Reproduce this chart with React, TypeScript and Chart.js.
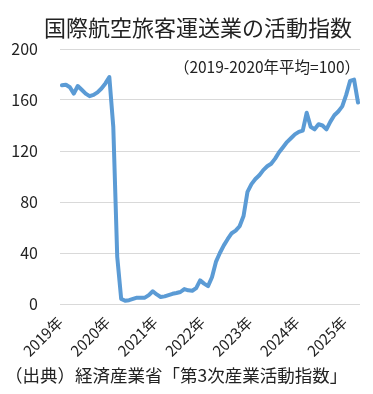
import React, { useEffect, useRef } from 'react';
import { Chart, registerables } from 'chart.js';

Chart.register(...registerables);

const FONT = '"Noto Sans CJK JP", "Noto Sans", sans-serif';

const title = '国際航空旅客運送業の活動指数';
const subtitle = '（2019-2020年平均=100）';
const source = '（出典）経済産業省「第3次産業活動指数」';

// Year labels (tick at January of each year)
const years = ['2019年', '2020年', '2021年', '2022年', '2023年', '2024年', '2025年'];

// Monthly index values, Jan 2019 – Apr 2025
const values2019 = [171.5, 172, 170, 165, 171, 168, 165, 163, 164, 166, 169, 173];
const values2020 = [178, 139, 37, 4, 2.5, 3, 4, 5, 5, 5, 7, 10];
const values2021 = [7.5, 5.5, 6, 7, 8, 8.6, 9.4, 11.7, 10.7, 10.4, 12.5, 18.5];
const values2022 = [16, 14, 21, 33, 40, 46, 51, 55.5, 57.5, 61, 69, 88];
const values2023 = [94, 98, 101, 105, 108, 110, 114, 119, 123, 127, 130, 133];
const values2024 = [135, 136, 150, 139, 137, 141, 140, 137, 143, 148, 151, 155];
const values2025 = [164, 175, 176, 158];

const values = [...values2019, ...values2020, ...values2021, ...values2022, ...values2023, ...values2024, ...values2025];

const yMin = 0;
const yMax = 200;
const yStep = 40;

export default function App() {
  const ref = useRef<HTMLCanvasElement>(null);

  useEffect(() => {
    document.body.style.margin = '0';
    const canvas = ref.current;
    if (!canvas) return;
    const chart = new Chart(canvas, {
      type: 'line',
      data: {
        datasets: [
          {
            data: values.map((v, i) => ({ x: i, y: v })),
            borderColor: '#5B9BD5',
            borderWidth: 4,
            pointRadius: 0,
            tension: 0,
            borderJoinStyle: 'round',
            borderCapStyle: 'round',
            fill: false,
          },
        ],
      },
      options: {
        responsive: false,
        animation: false,
        layout: { padding: { left: 0, right: 13, top: 49, bottom: 0 } },
        plugins: {
          legend: { display: false },
          tooltip: { enabled: false },
          title: { display: false },
        },
        scales: {
          x: {
            type: 'linear',
            min: -0.5,
            max: values.length - 0.5,
            grid: { display: false, drawTicks: false },
            border: { display: false },
            afterBuildTicks: (axis: any) => {
              axis.ticks = years.map((_, k) => ({ value: k * 12 - 0.5 }));
            },
            afterFit: (scale: any) => {
              scale.height = 90;
            },
            ticks: {
              autoSkip: false,
              maxRotation: 45,
              minRotation: 45,
              padding: 9,
              color: '#222',
              font: { family: FONT, size: 15 },
              callback: (v: any) => years[Math.round((Number(v) + 0.5) / 12)] ?? '',
            },
          },
          y: {
            min: yMin,
            max: yMax,
            grid: { color: '#d9d9d9', lineWidth: 1, drawTicks: false },
            border: { display: false },
            afterFit: (scale: any) => {
              scale.width = 60;
            },
            ticks: {
              stepSize: yStep,
              padding: 22,
              color: '#222',
              font: { family: FONT, size: 16 },
            },
          },
        },
      },
    });
    return () => chart.destroy();
  }, []);

  return (
    <div style={{ position: 'relative', width: 373, height: 394, background: '#fff', overflow: 'hidden' }}>
      <canvas ref={ref} width={373} height={394} style={{ position: 'absolute', left: 0, top: 0, display: 'block' }} />
      <div
        style={{
          position: 'absolute',
          left: 44,
          top: 15,
          fontFamily: FONT,
          fontSize: 22,
          lineHeight: '22px',
          color: '#222',
          whiteSpace: 'nowrap',
        }}
      >
        {title}
      </div>
      <div
        style={{
          position: 'absolute',
          right: 13,
          top: 58,
          fontFamily: FONT,
          fontSize: 15.5,
          lineHeight: '16px',
          color: '#222',
          whiteSpace: 'nowrap',
        }}
      >
        {subtitle}
      </div>
      <div
        style={{
          position: 'absolute',
          left: 5,
          top: 366,
          fontFamily: FONT,
          fontSize: 17.5,
          lineHeight: '18px',
          color: '#222',
          whiteSpace: 'nowrap',
        }}
      >
        {source}
      </div>
    </div>
  );
}
